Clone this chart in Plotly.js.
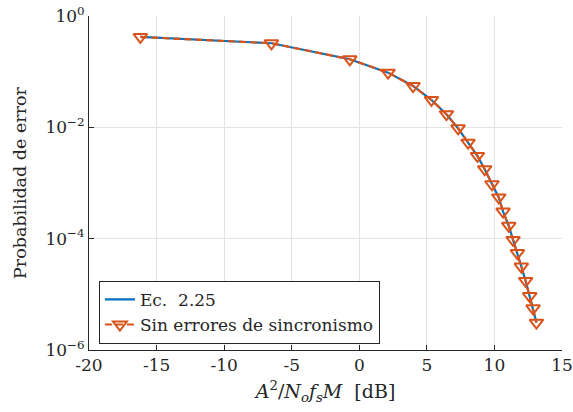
<!DOCTYPE html>
<html>
<head>
<meta charset="utf-8">
<script src="https://cdn.plot.ly/plotly-3.0.1.min.js"></script>
<style>
  html, body { margin: 0; padding: 0; background: #ffffff; }
  #chart { width: 573px; height: 412px; }
</style>
</head>
<body>
<div id="chart"></div>
<script>
// SNR values in dB (A^2 / No fs M)
const snrDb = [-16.2, -6.5, -0.7, 2.13, 3.98, 5.34, 6.45, 7.31, 8.05, 8.74, 9.28,
               9.82, 10.32, 10.64, 11.06, 11.38, 11.70, 11.99, 12.31, 12.61, 12.86, 13.11];

// Theoretical error probability (Ec. 2.25)
const peTheory = [0.42, 0.324, 0.167, 0.096, 0.0553, 0.031, 0.0172, 9.6e-3, 5.3e-3, 3.07e-3, 1.77e-3,
                  9.5e-4, 5.5e-4, 3.07e-4, 1.7e-4, 9.5e-5, 5.5e-5, 3.16e-5, 1.74e-5, 9.3e-6, 5.6e-6, 3.1e-6];

// Simulated error probability without synchronisation errors
const peSim = [0.42, 0.324, 0.167, 0.096, 0.0553, 0.031, 0.0172, 9.6e-3, 5.3e-3, 3.07e-3, 1.77e-3,
               9.5e-4, 5.5e-4, 3.07e-4, 1.7e-4, 9.5e-5, 5.5e-5, 3.16e-5, 1.74e-5, 9.3e-6, 5.6e-6, 3.1e-6];

const xTickVals = [-20, -15, -10, -5, 0, 5, 10, 15];
const xTickText = ['-20', '-15', '-10', '-5', '0', '5', '10', '15'];
const yTickVals = [1e-6, 1e-4, 1e-2, 1];
const yTickText = ['10<sup>\u22126</sup>', '10<sup>\u22124</sup>', '10<sup>\u22122</sup>', '10<sup>0</sup>'];

const serif = 'DejaVu Serif';
const axisColor = '#262626';
const gridColor = '#e3e3e3';

const traces = [
  {
    x: snrDb, y: peTheory, type: 'scatter', mode: 'lines',
    name: 'Ec.  2.25',
    line: { color: '#0072BD', width: 2.2 }
  },
  {
    x: snrDb, y: peSim, type: 'scatter', mode: 'lines+markers',
    name: 'Sin errores de sincronismo',
    line: { color: '#D95319', width: 2.2, dash: '7px,4px' },
    marker: { symbol: 'triangle-down-open', size: 12, color: '#D95319', line: { width: 2, color: '#D95319' } }
  }
];

const layout = {
  width: 573, height: 412,
  margin: { l: 89, r: 11, t: 16, b: 62 },
  paper_bgcolor: '#ffffff', plot_bgcolor: '#ffffff',
  font: { family: serif, size: 17, color: axisColor },
  showlegend: true,
  legend: {
    x: 0.021, y: 0.207, xanchor: 'left', yanchor: 'top',
    bgcolor: '#ffffff', bordercolor: axisColor, borderwidth: 1,
    font: { family: serif, size: 17, color: axisColor },
    tracegroupgap: 0, itemwidth: 30
  },
  xaxis: {
    range: [-20, 15],
    tickmode: 'array', tickvals: xTickVals, ticktext: xTickText,
    ticks: 'inside', ticklen: 5, tickcolor: axisColor, tickwidth: 1,
    showline: true, linecolor: axisColor, linewidth: 1, mirror: false,
    showgrid: true, gridcolor: gridColor, gridwidth: 1, zeroline: false,
    tickfont: { family: serif, size: 17, color: axisColor },
    title: {
      text: '<i>A</i><sup>2</sup>/<i>N</i><sub><i>o</i></sub><i>f</i><sub><i>s</i></sub><i>M</i>  [dB]',
      font: { family: serif, size: 19, color: axisColor }, standoff: 10
    }
  },
  yaxis: {
    type: 'log', range: [-6, 0],
    tickmode: 'array', tickvals: yTickVals, ticktext: yTickText,
    ticks: 'inside', ticklen: 5, tickcolor: axisColor, tickwidth: 1,
    showline: true, linecolor: axisColor, linewidth: 1, mirror: false,
    showgrid: true, gridcolor: gridColor, gridwidth: 1, zeroline: false,
    tickfont: { family: serif, size: 17, color: axisColor },
    title: {
      text: 'Probabilidad de error',
      font: { family: serif, size: 17.5, color: axisColor }, standoff: 14
    }
  }
};

Plotly.newPlot('chart', traces, layout, { displayModeBar: false, staticPlot: true });
</script>
</body>
</html>
